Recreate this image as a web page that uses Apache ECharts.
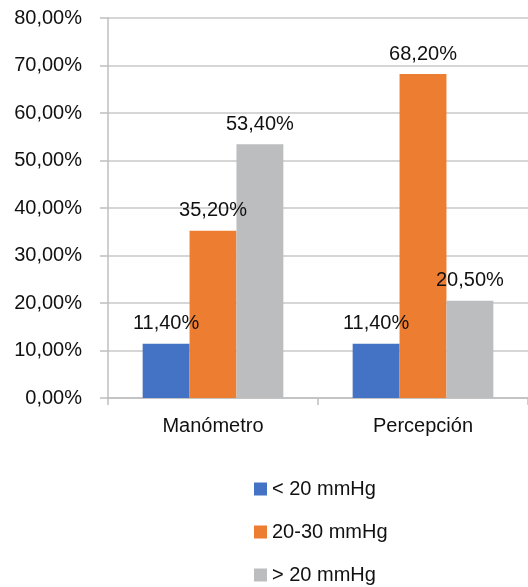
<!DOCTYPE html>
<html>
<head>
<meta charset="utf-8">
<script src="https://cdn.jsdelivr.net/npm/echarts@6/dist/echarts.min.js"></script>
<style>
html,body{margin:0;padding:0;background:#fff;}
#chart{width:528px;height:587px;}
</style>
</head>
<body>
<div id="chart"></div>
<script>
var categories = ['Manómetro', 'Percepción'];
var seriesNames = ['< 20 mmHg', '20-30 mmHg', '> 20 mmHg'];
var lowValues = [11.4, 11.4];
var midValues = [35.2, 68.2];
var highValues = [53.4, 20.5];
var yTicks = [0, 10, 20, 30, 40, 50, 60, 70, 80];

var FONT = '"Liberation Sans", Arial, sans-serif';
var colors = ['#4472C4', '#ED7D31', '#BCBDBF'];
function pct(v){ return v.toFixed(2).replace('.', ',') + '%'; }

var chart = echarts.init(document.getElementById('chart'), null, {renderer:'canvas'});
var dataSets = [lowValues, midValues, highValues];
var series = dataSets.map(function(d, i){
  return {
    name: seriesNames[i],
    type: 'bar',
    data: d,
    barGap: '0%',
    barCategoryGap: '33%',
    itemStyle: {color: colors[i]},
    label: {
      show: true, position: 'top', distance: 10,
      fontFamily: FONT, fontSize: 20, color: '#111',
      formatter: function(p){ return pct(p.value); }
    }
  };
});

chart.setOption({
  animation: false,
  color: colors,
  grid: {left: 108, top: 18, width: 422, height: 380, containLabel: false},
  xAxis: {
    type: 'category',
    data: categories,
    axisLine: {show: true, lineStyle: {color: '#BFBFBF', width: 1.5}},
    axisTick: {show: true, length: 7, lineStyle: {color: '#BFBFBF', width: 1.5}},
    axisLabel: {fontFamily: FONT, fontSize: 20, color: '#111', margin: 18}
  },
  yAxis: {
    type: 'value',
    min: yTicks[0], max: yTicks[yTicks.length-1], interval: 10,
    axisLine: {show: true, lineStyle: {color: '#BFBFBF', width: 1.5}},
    axisTick: {show: true, length: 8, lineStyle: {color: '#BFBFBF', width: 1.5}},
    splitLine: {show: true, lineStyle: {color: '#C8C8C8', width: 1.5}},
    axisLabel: {fontFamily: FONT, fontSize: 20, color: '#111', margin: 26,
      formatter: function(v){ return pct(v); }}
  },
  legend: {
    orient: 'vertical',
    left: 249, top: 474, height: 130,
    itemWidth: 13, itemHeight: 13, itemGap: 23,
    icon: 'rect',
    textStyle: {fontFamily: FONT, fontSize: 20, lineHeight: 20, color: '#111'},
    data: seriesNames
  },
  series: series
});
</script>
</body>
</html>
